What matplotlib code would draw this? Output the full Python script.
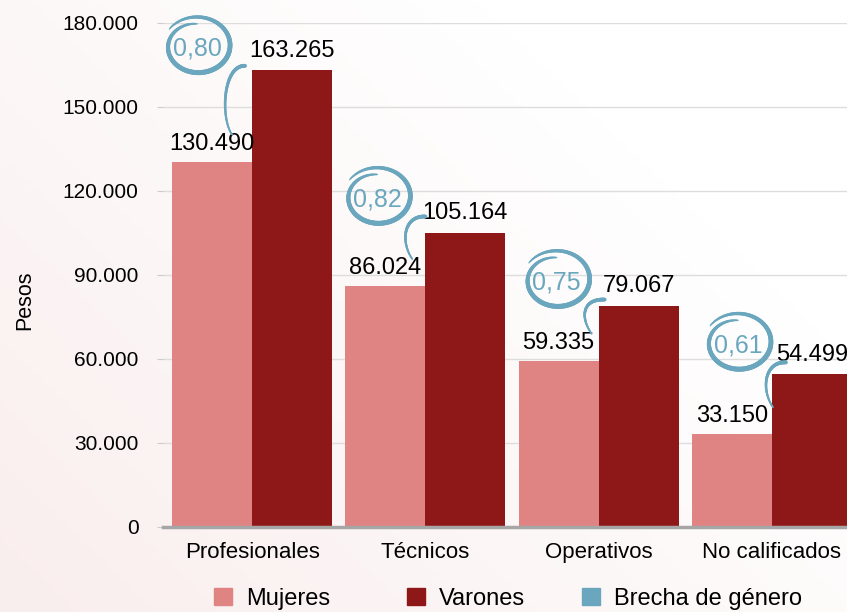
import numpy as np
import matplotlib
matplotlib.use('Agg')
import matplotlib.pyplot as plt
from matplotlib.patches import Patch
from matplotlib.collections import LineCollection
from matplotlib.transforms import IdentityTransform
from matplotlib.ticker import FuncFormatter

# data
categorias = ['Profesionales', 'Técnicos', 'Operativos', 'No calificados']
mujeres = [130490, 86024, 59335, 33150]
varones = [163265, 105164, 79067, 54499]
brecha = ['0,80', '0,82', '0,75', '0,61']
yticks = [0, 30000, 60000, 90000, 120000, 150000, 180000]
series = ['Mujeres', 'Varones', 'Brecha de género']

# layout of the hand drawn circles (pixels relative to the Varones bar top)
ring_dx = [-55, -48, -42, -34]
ring_dy = [21, 33, 23, 29]
legend_x = [214, 407, 582]

c_muj = '#E08383'
c_var = '#8E1818'
c_bre = '#6AA7BE'

plt.rcParams['font.family'] = ['Liberation Sans', 'DejaVu Sans']


def miles(v, pos=None):
    return f'{int(v):,}'.replace(',', '.')


def stroke(pts, lws):
    pts = pts.reshape(-1, 1, 2)
    segs = np.concatenate([pts[:-1], pts[1:]], axis=1)
    fig.add_artist(LineCollection(segs, linewidths=lws, colors=c_bre,
                                  transform=IdentityTransform(), capstyle='round'))


fig = plt.figure(figsize=(8.47, 6.12), dpi=100)

# soft pink gradient background
bg = fig.add_axes([0, 0, 1, 1], zorder=-10)
xx, yy = np.meshgrid(np.linspace(0, 1, 200), np.linspace(0, 1, 200))
w = np.clip(0.8 * (1 - xx) + 0.6 * yy - 0.35, 0, 1)
img = np.dstack([1 - 0.02 * w, 1 - 0.065 * w, 1 - 0.065 * w])
bg.imshow(img, aspect='auto', extent=[0, 1, 0, 1])
bg.axis('off')

ax = fig.add_axes([163 / 847, 85 / 612, (847 - 163) / 847, 504 / 612])
ax.patch.set_alpha(0)

x = np.arange(len(categorias))
bw = 0.462
ax.bar(x - bw / 2, mujeres, bw, color=c_muj, zorder=3)
ax.bar(x + bw / 2, varones, bw, color=c_var, zorder=3)

ax.set_xlim(-0.514, 3.433)
ax.set_ylim(0, 180000)
ax.set_yticks(yticks)
ax.yaxis.set_major_formatter(FuncFormatter(miles))
ax.yaxis.grid(True, color='#DDDDDD', lw=1)
ax.set_axisbelow(True)
for s in ['top', 'right', 'left']:
    ax.spines[s].set_visible(False)
ax.spines['bottom'].set_color('#A6A6A6')
ax.spines['bottom'].set_linewidth(2.5)
ax.spines['bottom'].set_zorder(4)
ax.tick_params(axis='y', length=4.5, color='#CCCCCC', labelsize=15, pad=13)
ax.set_xticks(x, categorias)
ax.tick_params(axis='x', length=0, labelsize=16, pad=11)

for i in range(len(categorias)):
    ax.annotate(miles(mujeres[i]), (x[i] - bw / 2, mujeres[i]), xytext=(0, 5),
                textcoords='offset points', ha='center', va='bottom', fontsize=17)
    ax.annotate(miles(varones[i]), (x[i] + bw / 2, varones[i]), xytext=(0, 6),
                textcoords='offset points', ha='center', va='bottom', fontsize=17)

# gap circles with their tails (drawn in pixels)
tr = ax.transData
for i in range(len(categorias)):
    gx, vy = tr.transform((x[i], varones[i]))
    _, my = tr.transform((x[i], mujeres[i]))
    cx = gx + ring_dx[i]
    cy = vy + ring_dy[i]
    fig.text(cx / 847, cy / 612, brecha[i], ha='center', va='center',
             fontsize=18, color=c_bre)

    t = np.linspace(0, 1, 160)
    th = np.radians(145 - 415 * t)
    r = 1 - 0.24 * t ** 2
    ring = np.column_stack([cx + 34 * r * np.cos(th), cy + 3 + 29 * r * np.sin(th)])
    stroke(ring, 0.8 + 2.8 * np.sin(np.pi * t[:-1]) ** 0.6)

    p0 = np.array([cx + 48, cy - 17])
    p3 = np.array([cx + 35, my + 27])
    p1 = p0 + np.array([-22, 1])
    p2 = p3 + np.array([-12, 17])
    s = np.linspace(0, 1, 80)[:, None]
    b = (1 - s) ** 3 * p0 + 3 * (1 - s) ** 2 * s * p1 + 3 * (1 - s) * s ** 2 * p2 + s ** 3 * p3
    stroke(b, np.linspace(2.8, 1.2, len(b) - 1))

fig.text(25 / 847, 1 - 300 / 612, 'Pesos', rotation=90, ha='center', va='center', fontsize=15.5)

colores = [c_muj, c_var, c_bre]
for k in range(3):
    fig.legend([Patch(color=colores[k])], [series[k]], loc='center left',
               bbox_to_anchor=(legend_x[k] / 847, 1 - 599 / 612), frameon=False, fontsize=17,
               handlelength=0.75, handleheight=0.75, handletextpad=0.6,
               borderpad=0, borderaxespad=0)

fig.savefig('out.png', dpi=100)
